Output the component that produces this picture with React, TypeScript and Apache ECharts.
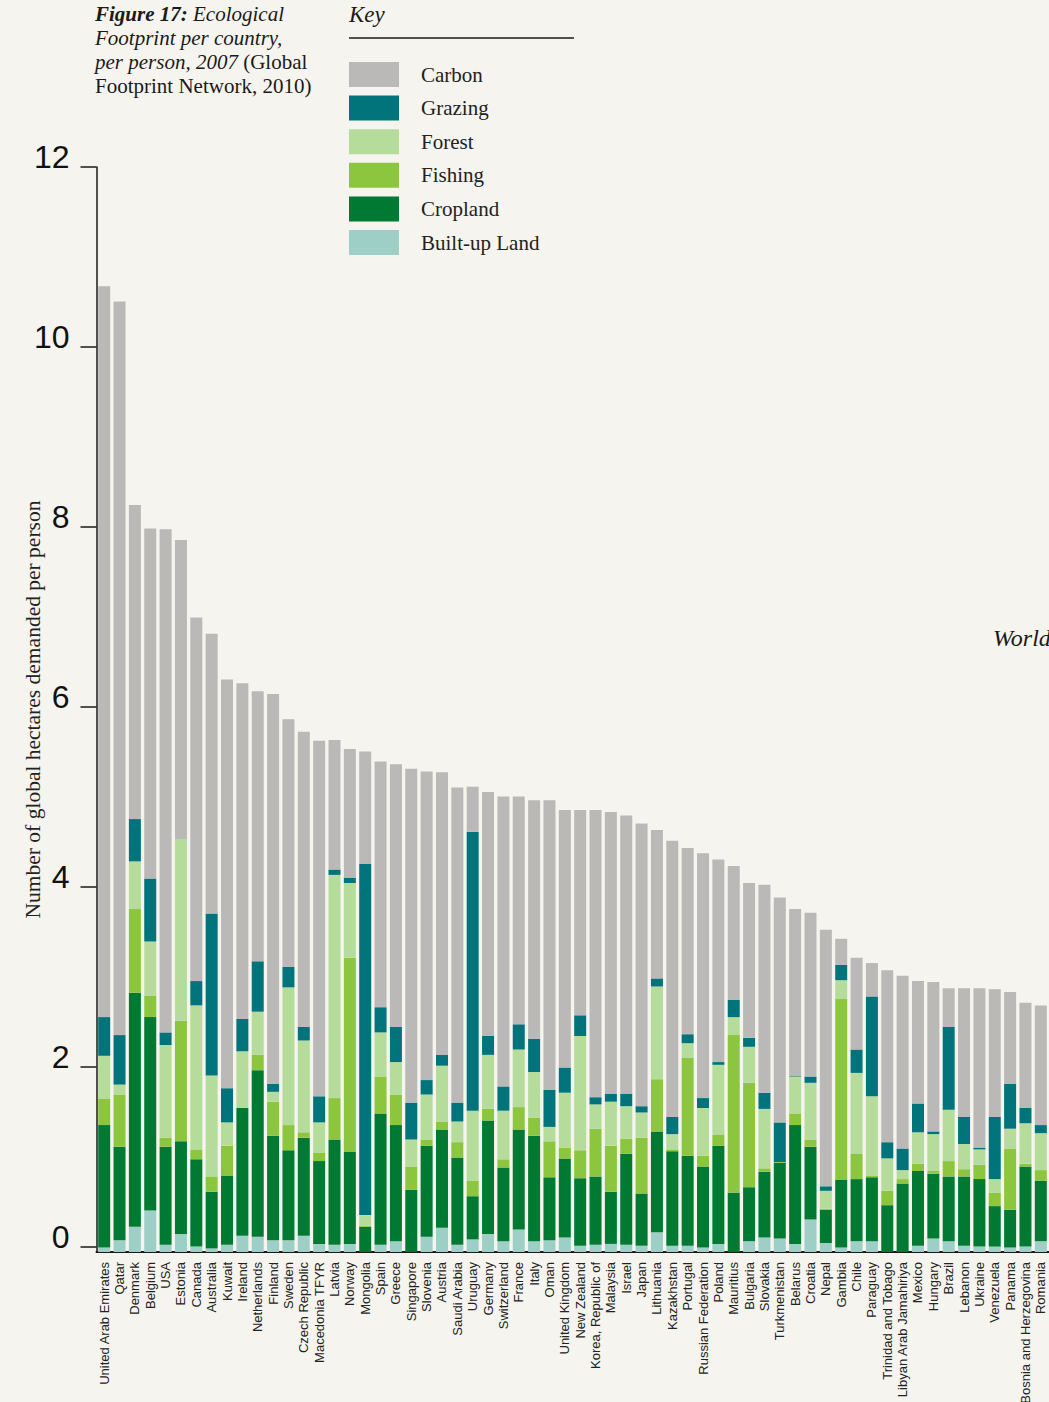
import React, { useEffect, useRef } from "react";
import * as echarts from "echarts";

const countries = [
  "United Arab Emirates", "Qatar", "Denmark", "Belgium", "USA", "Estonia", "Canada", "Australia",
  "Kuwait", "Ireland", "Netherlands", "Finland", "Sweden", "Czech Republic", "Macedonia TFYR",
  "Latvia", "Norway", "Mongolia", "Spain", "Greece", "Singapore", "Slovenia", "Austria",
  "Saudi Arabia", "Uruguay", "Germany", "Switzerland", "France", "Italy", "Oman",
  "United Kingdom", "New Zealand", "Korea, Republic of", "Malaysia", "Israel", "Japan",
  "Lithuania", "Kazakhstan", "Portugal", "Russian Federation", "Poland", "Mauritius",
  "Bulgaria", "Slovakia", "Turkmenistan", "Belarus", "Croatia", "Nepal", "Gambia", "Chile",
  "Paraguay", "Trinidad and Tobago", "Libyan Arab Jamahiriya", "Mexico", "Hungary", "Brazil",
  "Lebanon", "Ukraine", "Venezuela", "Panama", "Bosnia and Herzegovina", "Romania",
];

const builtUp = [
  0.05, 0.13, 0.28, 0.46, 0.08, 0.2, 0.06, 0.04, 0.08, 0.18, 0.17, 0.13, 0.13, 0.18, 0.09,
  0.08, 0.09, 0, 0.08, 0.12, 0, 0.17, 0.27, 0.08, 0.14, 0.2, 0.12, 0.25, 0.12, 0.13,
  0.16, 0.07, 0.08, 0.09, 0.08, 0.07, 0.22, 0.07, 0.07, 0.05, 0.09, 0,
  0.12, 0.16, 0.15, 0.09, 0.36, 0.1, 0.05, 0.12, 0.12, 0, 0, 0.07, 0.15, 0.12,
  0.07, 0.06, 0.06, 0.05, 0.06, 0.12,
];

const cropland = [
  1.36, 1.04, 2.6, 2.15, 1.09, 1.03, 0.97, 0.63, 0.77, 1.42, 1.85, 1.16, 1.0, 1.09, 0.92,
  1.17, 1.02, 0.28, 1.46, 1.29, 0.69, 1.01, 1.09, 0.97, 0.48, 1.26, 0.82, 1.11, 1.17, 0.7,
  0.88, 0.75, 0.76, 0.58, 1.01, 0.58, 1.12, 1.05, 1.0, 0.9, 1.09, 0.66,
  0.6, 0.73, 0.84, 1.32, 0.81, 0.37, 0.75, 0.69, 0.71, 0.52, 0.76, 0.83, 0.72, 0.72,
  0.77, 0.75, 0.45, 0.42, 0.89, 0.67,
];

const fishing = [
  0.29, 0.58, 0.93, 0.24, 0.1, 1.34, 0.11, 0.17, 0.33, 0, 0.17, 0.38, 0.28, 0.06, 0.09,
  0.46, 2.16, 0.01, 0.41, 0.34, 0.26, 0.07, 0.09, 0.17, 0.17, 0.13, 0.09, 0.25, 0.2, 0.4,
  0.12, 0.31, 0.53, 0.51, 0.17, 0.62, 0.58, 0.02, 1.09, 0.12, 0.12, 1.75,
  1.16, 0.04, 0.01, 0.13, 0.08, 0.01, 2.01, 0.28, 0.02, 0.16, 0.05, 0.08, 0.03, 0.17,
  0.08, 0.16, 0.15, 0.68, 0.03, 0.12,
];

const forest = [
  0.48, 0.11, 0.53, 0.6, 1.03, 2.02, 1.6, 1.12, 0.26, 0.63, 0.48, 0.11, 1.53, 1.02, 0.34,
  2.48, 0.83, 0.12, 0.49, 0.36, 0.3, 0.5, 0.62, 0.23, 0.78, 0.6, 0.54, 0.64, 0.51, 0.16,
  0.61, 1.27, 0.27, 0.49, 0.36, 0.28, 1.03, 0.17, 0.16, 0.53, 0.78, 0.2,
  0.4, 0.66, 0, 0.41, 0.63, 0.2, 0.21, 0.9, 0.88, 0.36, 0.1, 0.35, 0.41, 0.57,
  0.28, 0.17, 0.15, 0.22, 0.45, 0.41,
];

const grazing = [
  0.43, 0.55, 0.47, 0.7, 0.14, 0, 0.27, 1.8, 0.38, 0.36, 0.56, 0.09, 0.23, 0.15, 0.29,
  0.06, 0.06, 3.9, 0.28, 0.39, 0.41, 0.16, 0.12, 0.21, 3.1, 0.21, 0.27, 0.28, 0.37, 0.41,
  0.28, 0.23, 0.08, 0.09, 0.14, 0.07, 0.09, 0.19, 0.1, 0.11, 0.03, 0.19,
  0.1, 0.18, 0.44, 0.01, 0.07, 0.05, 0.17, 0.26, 1.11, 0.18, 0.24, 0.32, 0.03, 0.92,
  0.3, 0.02, 0.69, 0.5, 0.17, 0.09,
];

const carbon = [
  8.12, 8.15, 3.49, 3.89, 5.59, 3.32, 4.04, 3.11, 4.54, 3.73, 3.0, 4.33, 2.75, 3.28, 3.95,
  1.44, 1.43, 1.25, 2.73, 2.92, 3.71, 3.43, 3.14, 3.5, 0.5, 2.71, 3.22, 2.53, 2.65, 3.22,
  2.86, 2.28, 3.19, 3.13, 3.09, 3.14, 1.65, 3.07, 2.07, 2.72, 2.25, 1.49,
  1.72, 2.31, 2.5, 1.85, 1.82, 2.85, 0.29, 1.02, 0.37, 1.91, 1.92, 1.36, 1.66, 0.43,
  1.43, 1.77, 1.42, 1.02, 1.17, 1.33,
];

const yTickValues = [0, 2, 4, 6, 8, 10, 12];

const COLORS = {
  carbon: "#bab9b7",
  grazing: "#00747a",
  forest: "#b6dc9c",
  fishing: "#8cc63f",
  cropland: "#007a33",
  builtUp: "#9ecfc7",
};

const BG = "#f5f4ee";
const SERIF = "'Liberation Serif', 'DejaVu Serif', serif";
const SANS = "'Liberation Sans', Arial, sans-serif";

// The printed baseline sits 5px below the "0" tick (90px per unit).
const PX_PER_UNIT = 90;
const BASE_SHIFT = 5 / PX_PER_UNIT;

export default function App() {
  const ref = useRef<HTMLDivElement>(null);

  useEffect(() => {
    if (!ref.current) return;
    const chart = echarts.init(ref.current, null, { renderer: "svg" });

    const mk = (name: string, data: number[], color: string) => ({
      name,
      type: "bar",
      stack: "fp",
      xAxisIndex: 0,
      yAxisIndex: 1,
      barWidth: 12,
      data,
      itemStyle: { color },
      emphasis: { disabled: true },
    });

    chart.setOption({
      animation: false,
      backgroundColor: BG,
      grid: {
        left: 96.5,
        top: 167,
        width: 952,
        height: 1085,
        containLabel: false,
        outerBoundsMode: "none",
      },
      legend: {
        orient: "vertical",
        left: 349,
        top: 62,
        padding: 0,
        itemWidth: 50,
        itemHeight: 25,
        itemGap: 8.6,
        icon: "rect",
        selectedMode: false,
        data: ["Carbon", "Grazing", "Forest", "Fishing", "Cropland", "Built-up Land"],
        textStyle: {
          fontFamily: SERIF,
          fontSize: 21,
          color: "#222",
          padding: [0, 0, 0, 17],
        },
      },
      xAxis: {
        type: "category",
        data: countries,
        axisLine: { show: true, onZero: false, lineStyle: { color: "#1a1a1a", width: 2 } },
        axisTick: { show: false },
        axisLabel: {
          rotate: 90,
          interval: 0,
          margin: 10,
          fontFamily: SANS,
          fontSize: 13,
          color: "#222",
        },
      },
      yAxis: [
        {
          type: "value",
          position: "left",
          min: -BASE_SHIFT,
          max: 12,
          axisLine: { show: true, lineStyle: { color: "#1a1a1a", width: 1.5 } },
          axisTick: {
            show: true,
            length: 16,
            customValues: yTickValues,
            lineStyle: { color: "#1a1a1a", width: 1.5 },
          },
          axisLabel: {
            customValues: yTickValues,
            fontFamily: SANS,
            fontSize: 32,
            color: "#111",
            margin: 27,
            verticalAlign: "bottom",
            lineHeight: 21,
          },
          splitLine: { show: false },
          name: "Number of global hectares demanded per person",
          nameLocation: "middle",
          nameRotate: 90,
          nameGap: 53,
          nameMoveOverlap: false,
          nameTextStyle: { fontFamily: SERIF, fontSize: 21.5, color: "#222" },
        },
        {
          type: "value",
          position: "left",
          min: 0,
          max: 12 + BASE_SHIFT,
          show: false,
          splitLine: { show: false },
        },
      ],
      series: [
        mk("Built-up Land", builtUp, COLORS.builtUp),
        mk("Cropland", cropland, COLORS.cropland),
        mk("Fishing", fishing, COLORS.fishing),
        mk("Forest", forest, COLORS.forest),
        mk("Grazing", grazing, COLORS.grazing),
        mk("Carbon", carbon, COLORS.carbon),
      ],
      graphic: [
        {
          type: "text",
          left: 95,
          top: 2,
          style: {
            text:
              "{b|Figure 17:} {i|Ecological}\n{i|Footprint per country,}\n{i|per person, 2007} {r|(Global}\n{r|Footprint Network, 2010)}",
            fontFamily: SERIF,
            fontSize: 21,
            lineHeight: 24,
            fill: "#1a1a1a",
            rich: {
              b: { fontFamily: SERIF, fontSize: 21, fontStyle: "italic", fontWeight: "bold", lineHeight: 24, fill: "#1a1a1a" },
              i: { fontFamily: SERIF, fontSize: 21, fontStyle: "italic", lineHeight: 24, fill: "#1a1a1a" },
              r: { fontFamily: SERIF, fontSize: 21, lineHeight: 24, fill: "#1a1a1a" },
            },
          },
        },
        {
          type: "text",
          left: 349,
          top: 3,
          style: { text: "Key", fontFamily: SERIF, fontSize: 23, fontStyle: "italic", fill: "#1a1a1a" },
        },
        {
          type: "line",
          shape: { x1: 349, y1: 38, x2: 574, y2: 38 },
          style: { stroke: "#1a1a1a", lineWidth: 1.5 },
        },
        {
          type: "text",
          x: 993,
          y: 626,
          style: { text: "World", fontFamily: SERIF, fontSize: 24, fontStyle: "italic", fill: "#1a1a1a" },
        },
      ],
    });

    return () => chart.dispose();
  }, []);

  return (
    <div
      ref={ref}
      style={{ position: "absolute", left: 0, top: 0, width: 1049, height: 1402, background: BG }}
    />
  );
}
